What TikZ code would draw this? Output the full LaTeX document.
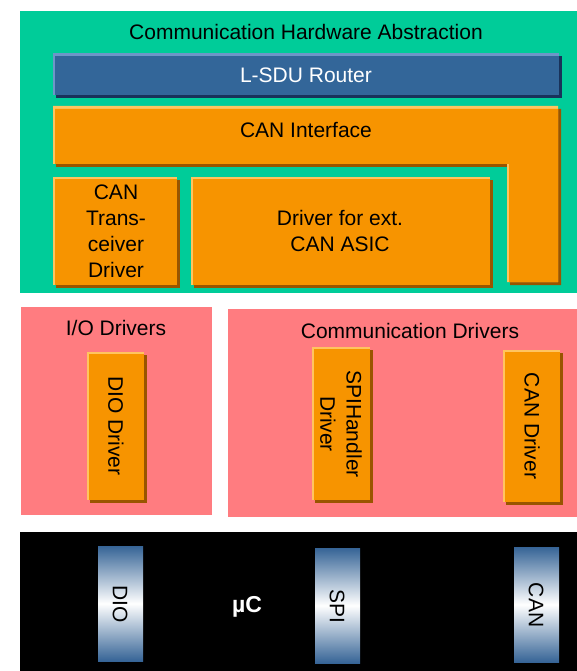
\documentclass[tikz,border=0pt]{standalone}
\usepackage{fontspec}
\setmainfont{Liberation Sans}
\usetikzlibrary{calc}

\definecolor{hwgreen}{RGB}{0,204,153}
\definecolor{drvpink}{RGB}{255,124,128}
\definecolor{modorange}{RGB}{247,148,0}
\definecolor{modlight}{RGB}{255,196,96}
\definecolor{moddark}{RGB}{153,85,0}
\definecolor{routerblue}{RGB}{51,102,153}
\definecolor{routerlight}{RGB}{110,150,200}
\definecolor{routerdark}{RGB}{25,50,90}
\definecolor{barblue}{RGB}{54,100,150}

\begin{document}
\begin{tikzpicture}[x=1pt,y=-1pt,
    every node/.style={font=\fontsize{21}{26}\selectfont},
    vtext/.style={rotate=-90,align=center}]
          \useasboundingbox (0,0) rectangle (577,671);
          % layers
          \fill[hwgreen] (20,11) rectangle (577,293);
          \fill[drvpink] (21,307) rectangle (212,515);
          \fill[drvpink] (228,309) rectangle (577,517);
          \fill[black] (20,532) rectangle (577,671);
          % L-SDU router
          \fill[routerdark] (56,56) rectangle (562,98);
          \fill[routerlight] (53,53) rectangle (559,95);
          \fill[routerblue] (55,56) rectangle (559,95);
          % CAN interface
          \fill[moddark] (56,109) -| (561,285) -| (510,167) -| cycle;
          \fill[modlight] (53,106) -| (558,282) -| (507,164) -| cycle;
          \fill[modorange] (55,109) -| (558,282) -| (509,164) -| cycle;
          % driver modules
          \foreach \xa/\ya/\xb/\yb in {53/177/177/285, 191/177/490/285,
                87/352/144/500, 312/347/370/500, 503/350/560/502}
          {
            \fill[moddark] (\xa+3,\ya+3) rectangle (\xb+3,\yb+3);
            \fill[modlight] (\xa,\ya) rectangle (\xb,\yb);
            \fill[modorange] (\xa+2,\ya+2) rectangle (\xb,\yb);
          }
          % peripherals
          \foreach \xa/\ya/\xb/\yb in {98/546/143/661, 315/548/360/663, 514/547/559/662}
            \shade[top color=barblue,bottom color=barblue,middle color=white] (\xa,\ya) rectangle (\xb,\yb);
          % labels
          \node (comhw) at (306,32) {Communication Hardware Abstraction};
          \node[text=white] (router) at (306,75) {L-SDU Router};
          \node (canif) at (306,130) {CAN Interface};
          \node[align=center] (cantrcv) at (116,231) {CAN\\Trans-\\ceiver\\Driver};
          \node[align=center] (extasic) at (340,231) {Driver for ext.\\CAN ASIC};
          \node (iodrv) at (116,328) {I/O Drivers};
          \node (comdrv) at (410,331) {Communication Drivers};
          \node[vtext] (diodrv) at (116,426) {DIO Driver};
          \node[vtext] (spidrv) at (341,424) {SPIHandler\\Driver};
          \node[vtext] (candrv) at (532,426) {CAN Driver};
          \node[text=white,font=\fontsize{23}{26}\selectfont\bfseries] (uc) at (247,607) {µC};
          \node[vtext] (dio) at (120,604) {DIO};
          \node[vtext] (spi) at (337,606) {SPI};
          \node[vtext] (can) at (536,605) {CAN};
        \end{tikzpicture}
\end{document}
